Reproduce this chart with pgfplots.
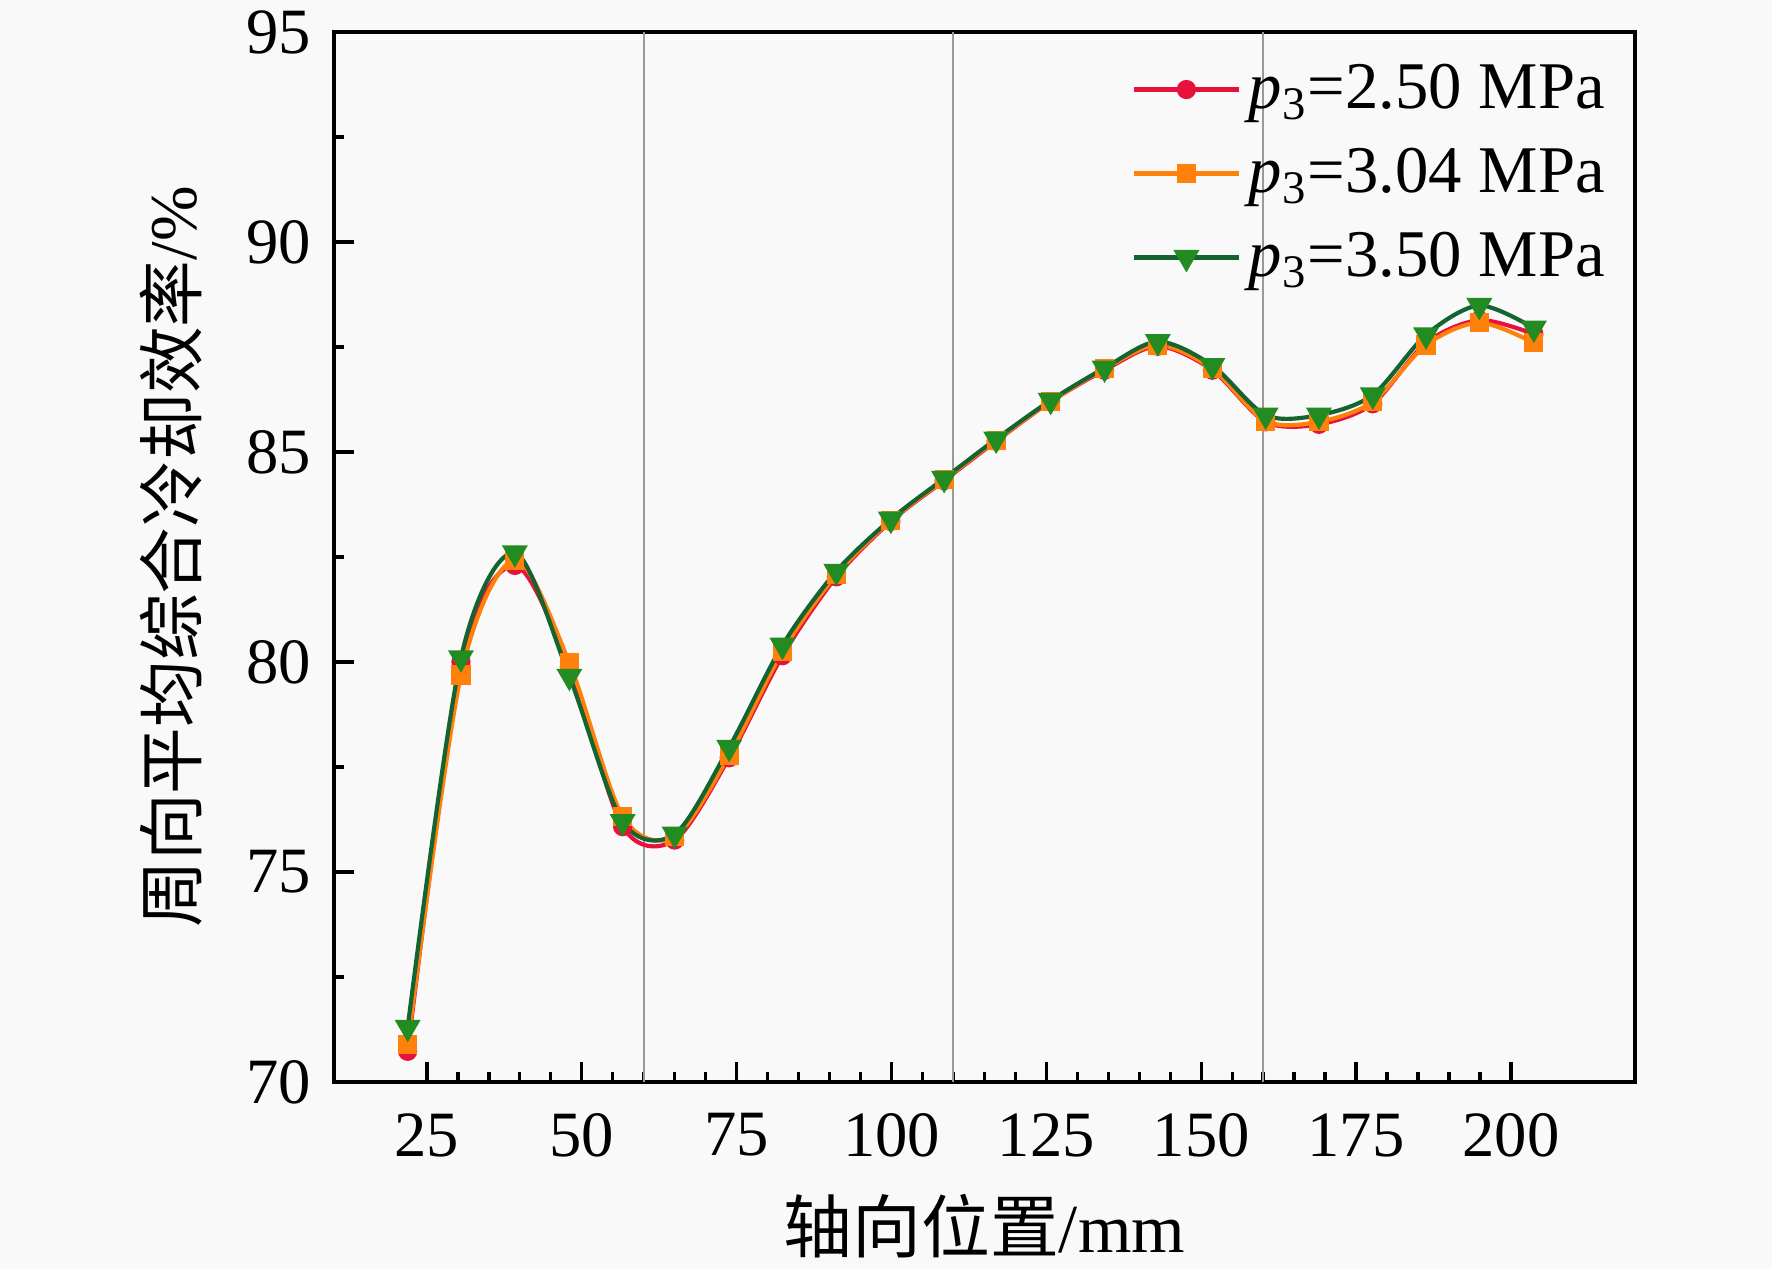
\documentclass[border=0pt]{standalone}
\usepackage{pgfplots}
\pgfplotsset{compat=1.18}
\usepackage{fontspec}
\setmainfont{Liberation Serif}
\newfontfamily\cjk{Noto Sans CJK SC}
\definecolor{bgc}{RGB}{249,249,249}
\definecolor{cred}{RGB}{232,17,60}
\definecolor{corg}{RGB}{255,128,10}
\definecolor{cgrnl}{RGB}{20,100,50}
\definecolor{cgrnm}{RGB}{34,139,34}
\newcommand{\pt}{\textit{p}\textsubscript{3}}
\begin{document}
\begin{tikzpicture}
\fill[bgc] (-80.1pt,-44.9pt) rectangle (344.9pt,259.5pt);
\begin{axis}[
  scale only axis,
  width=312pt, height=251.8pt,
  xmin=10, xmax=220, ymin=70, ymax=95,
  xtick={25,50,...,200}, ytick={70,75,...,95},
  minor x tick num=4, minor y tick num=1,
  tick pos=left, tick align=inside,
  major tick length=4.8pt, minor tick length=2.4pt,
  every tick/.style={black, line width=0.8pt},
  axis line style={line width=1pt},
  /pgf/number format/assume math mode=true,
  tick label style={font=\fontsize{15.5}{16}\selectfont},
  xticklabel style={yshift=-4pt},
  yticklabel style={xshift=-2pt},
  extra x ticks={60,110,160},
  extra x tick labels={},
  extra x tick style={grid=major, major tick length=0pt, major grid style={gray!80, line width=0.5pt}},
  xlabel={{\cjk 轴向位置}/mm},
  ylabel={{\cjk 周向平均综合冷却效率}/\%},
  xlabel style={at={(axis description cs:0.5,-0.137)}, anchor=center, font=\fontsize{16.5}{17}\selectfont},
  ylabel style={at={(axis description cs:-0.125,0.5)}, anchor=center, font=\fontsize{16}{17}\selectfont},
  legend style={at={(1,1)}, anchor=north east, xshift=-3pt, yshift=-3.5pt, draw=none, fill=none,
    font=\fontsize{16}{17}\selectfont, row sep=4pt, inner sep=2pt},
  legend cell align=left,
  legend image code/.code={\draw[mark repeat=2,mark phase=2] plot coordinates {(0pt,0pt) (12.5pt,0pt) (25pt,0pt)};},
]
\addplot[cred, line width=1pt, smooth, mark=*, mark size=1.8pt, mark options={fill=cred, draw=cred}] coordinates {
(21.9,70.73) (30.5,80.0) (39.2,82.3) (48.0,79.88) (56.6,76.08) (65.0,75.76) (73.8,77.72) (82.4,80.15) (91.1,82.03) (99.9,83.35) (108.5,84.32) (116.9,85.26) (125.7,86.2) (134.4,86.95) (143.0,87.52) (151.8,86.95) (160.4,85.72) (169.0,85.66) (177.7,86.15) (186.3,87.6) (194.9,88.14) (203.7,87.81)};
\addlegendentry{\pt=2.50 MPa}
\addplot[corg, line width=1pt, smooth, mark=square*, mark size=1.8pt, mark options={fill=corg, draw=corg}] coordinates {
(21.9,70.89) (30.5,79.69) (39.2,82.43) (48.0,79.98) (56.6,76.32) (65.0,75.84) (73.8,77.78) (82.4,80.25) (91.1,82.08) (99.9,83.37) (108.5,84.34) (116.9,85.28) (125.7,86.2) (134.4,86.98) (143.0,87.55) (151.8,86.98) (160.4,85.74) (169.0,85.72) (177.7,86.2) (186.3,87.55) (194.9,88.08) (203.7,87.6)};
\addlegendentry{\pt=3.04 MPa}
\addplot[cgrnl, line width=1pt, smooth, mark=triangle*, mark size=2.6pt, mark options={rotate=180, fill=cgrnm, draw=cgrnm}] coordinates {
(21.9,71.3) (30.5,80.1) (39.2,82.6) (48.0,79.66) (56.6,76.2) (65.0,75.9) (73.8,77.97) (82.4,80.4) (91.1,82.16) (99.9,83.4) (108.5,84.37) (116.9,85.31) (125.7,86.23) (134.4,87.0) (143.0,87.63) (151.8,87.06) (160.4,85.88) (169.0,85.88) (177.7,86.36) (186.3,87.79) (194.9,88.49) (203.7,87.95)};
\addlegendentry{\pt=3.50 MPa}
\end{axis}
\pgfresetboundingbox
\path (-80.1pt,-44.9pt) rectangle (344.9pt,259.5pt);
\end{tikzpicture}
\end{document}
